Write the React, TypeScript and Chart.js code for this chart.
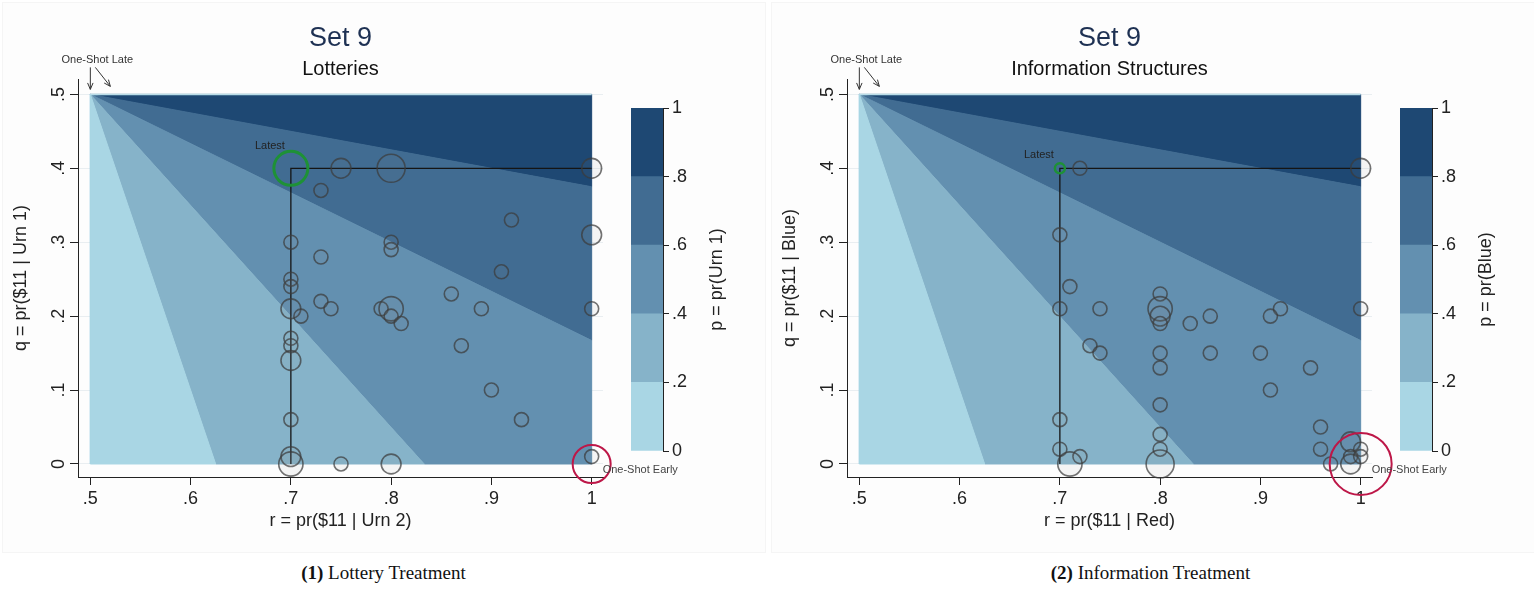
import React, { useEffect, useRef } from 'react';
import { Chart, registerables } from 'chart.js';
Chart.register(...registerables);

// ---------- data ----------
const xTicks = [0.5, 0.6, 0.7, 0.8, 0.9, 1];
const xTickLabels = ['.5', '.6', '.7', '.8', '.9', '1'];
const yTicks = [0, 0.1, 0.2, 0.3, 0.4, 0.5];
const yTickLabels = ['0', '.1', '.2', '.3', '.4', '.5'];
const pTicks = [0, 0.2, 0.4, 0.6, 0.8, 1];
const pTickLabels = ['0', '.2', '.4', '.6', '.8', '1'];
const pLevels = [0.2, 0.2, 0.2, 0.2, 0.2]; // colour-bar segments (p bands)

// contour bands of p (vertices r, q)
const band0R = [0.5, 0.5, 0.625, 0.5];
const band0Q = [0.5, 0, 0, 0.5];
const band1R = [0.5, 0.625, 0.833, 0.5];
const band1Q = [0.5, 0, 0, 0.5];
const band2R = [0.5, 0.833, 1, 1, 0.5];
const band2Q = [0.5, 0, 0, 0.167, 0.5];
const band3R = [0.5, 1, 1, 0.5];
const band3Q = [0.5, 0.167, 0.375, 0.5];
const band4R = [0.5, 1, 1, 0.5];
const band4Q = [0.5, 0.375, 0.5, 0.5];
const topEdgeR = [0.5, 1];
const topEdgeQ = [0.5, 0.5];

// reference lines through the latest option
const refR = [0.7, 0.7, 1.0];
const refQ = [0, 0.4, 0.4];

// highlighted options
const latestR = [0.7];
const latestQ = [0.4];
const earlyR = [1.0];
const earlyQ = [0.0];
const lateR = [0.5];
const lateQ = [0.5];

// Lottery treatment choices (r, q, count)
const lotR = [0.75, 0.80, 1.00, 0.73, 0.92, 1.00, 0.70, 0.80, 0.80, 0.73, 0.91, 0.70, 0.70, 0.86, 0.73, 0.74, 0.70, 0.79, 0.80, 0.89, 1.00, 0.71, 0.80, 0.81, 0.70, 0.70, 0.87, 0.70, 0.90, 0.93, 0.70, 0.70, 0.70, 0.75, 0.80, 1.00];
const lotQ = [0.40, 0.40, 0.40, 0.37, 0.33, 0.31, 0.30, 0.30, 0.29, 0.28, 0.26, 0.25, 0.24, 0.23, 0.22, 0.21, 0.21, 0.21, 0.21, 0.21, 0.21, 0.20, 0.20, 0.19, 0.17, 0.16, 0.16, 0.14, 0.10, 0.06, 0.06, 0.01, 0.00, 0.00, 0.00, 0.01];
const lotN = [2, 4, 2, 1, 1, 2, 1, 1, 1, 1, 1, 1, 1, 1, 1, 1, 2, 1, 3, 1, 1, 1, 1, 1, 1, 1, 1, 2, 1, 1, 1, 2, 3, 1, 2, 1];

// Information treatment choices (r, q, count)
const infR = [0.72, 1.00, 0.70, 0.71, 0.80, 0.70, 0.74, 0.80, 0.80, 0.80, 0.92, 1.00, 0.83, 0.85, 0.91, 0.73, 0.74, 0.80, 0.85, 0.90, 0.80, 0.95, 0.91, 0.80, 0.70, 0.96, 0.80, 0.70, 0.72, 0.71, 0.80, 0.80, 0.96, 0.97, 0.99, 0.99, 0.99, 1.00, 1.00];
const infQ = [0.40, 0.40, 0.31, 0.24, 0.23, 0.21, 0.21, 0.21, 0.20, 0.19, 0.21, 0.21, 0.19, 0.20, 0.20, 0.16, 0.15, 0.15, 0.15, 0.15, 0.13, 0.13, 0.10, 0.08, 0.06, 0.05, 0.04, 0.02, 0.01, 0.00, 0.02, 0.00, 0.02, 0.00, 0.03, 0.01, 0.00, 0.02, 0.01];
const infN = [1, 2, 1, 1, 1, 1, 1, 3, 2, 1, 1, 1, 1, 1, 1, 1, 1, 1, 1, 1, 1, 1, 1, 1, 1, 1, 1, 1, 1, 3, 1, 4, 1, 1, 2, 1, 2, 1, 1];

// ---------- styles ----------
const FONT = "'Liberation Sans', Arial, Helvetica, sans-serif";
const SERIF = "'Liberation Serif', 'Times New Roman', serif";
const bandColors = ['#a9d6e4', '#86b3c9', '#6390b0', '#416c92', '#1e4873'];
const PANEL_W = 767;
const PANEL_H = 552;

const pts = (r: number[], q: number[]) => r.map((v, i) => ({ x: v, y: q[i] }));

function arrow(ctx: any, x1: number, y1: number, x2: number, y2: number) {
  ctx.beginPath();
  ctx.moveTo(x1, y1);
  ctx.lineTo(x2, y2);
  const a = Math.atan2(y2 - y1, x2 - x1);
  const L = 7;
  ctx.moveTo(x2, y2);
  ctx.lineTo(x2 - L * Math.cos(a - 0.4), y2 - L * Math.sin(a - 0.4));
  ctx.moveTo(x2, y2);
  ctx.lineTo(x2 - L * Math.cos(a + 0.4), y2 - L * Math.sin(a + 0.4));
  ctx.stroke();
}

const annotPlugin = {
  id: 'annot',
  afterDraw(chart: any, _a: any, o: any) {
    const ctx = chart.ctx;
    const xs = chart.scales.x;
    const ys = chart.scales.y;
    ctx.save();
    // rotated y tick labels (Stata style)
    ctx.fillStyle = '#222';
    ctx.font = `18px ${FONT}`;
    ctx.textAlign = 'center';
    ctx.textBaseline = 'alphabetic';
    ys.ticks.forEach((t: any) => {
      const py = ys.getPixelForValue(t.value);
      const lab = yTickLabels[yTicks.indexOf(t.value)];
      ctx.save();
      ctx.translate(ys.right - 14.5, py);
      ctx.rotate(-Math.PI / 2);
      ctx.fillText(lab, 0, 0);
      ctx.restore();
    });
    // One-Shot Late
    const ax = xs.getPixelForValue(lateR[0]);
    const ay = ys.getPixelForValue(lateQ[0]);
    ctx.font = `11px ${FONT}`;
    ctx.fillStyle = '#333';
    ctx.textAlign = 'center';
    ctx.textBaseline = 'alphabetic';
    ctx.fillText('One-Shot Late', ax + 7, ay - 31);
    ctx.strokeStyle = '#333';
    ctx.lineWidth = 1;
    arrow(ctx, ax, ay - 27, ax, ay - 5);
    arrow(ctx, ax + 5, ay - 27, ax + 20, ay - 8);
    // Latest
    const lx = xs.getPixelForValue(latestR[0]);
    const ly = ys.getPixelForValue(latestQ[0]);
    ctx.fillStyle = '#222';
    ctx.textAlign = 'right';
    ctx.textBaseline = 'bottom';
    ctx.fillText('Latest', lx - 6, ly - o.latestRadius * 0.75 - 4);
    // One-Shot Early
    const ex = xs.getPixelForValue(earlyR[0]);
    const ey = ys.getPixelForValue(earlyQ[0]);
    ctx.fillStyle = '#444';
    ctx.textAlign = 'left';
    ctx.textBaseline = 'middle';
    ctx.fillText('One-Shot Early', ex + 11, ey + 6);
    ctx.restore();
  },
};

const cbTitlePlugin = {
  id: 'cbTitle',
  afterDraw(chart: any, _a: any, o: any) {
    const ctx = chart.ctx;
    const ys = chart.scales.y;
    ctx.save();
    ctx.fillStyle = '#222';
    ctx.font = `18px ${FONT}`;
    ctx.textAlign = 'center';
    ctx.textBaseline = 'middle';
    ctx.translate(ys.left + 54, (ys.top + ys.bottom) / 2);
    ctx.rotate(-Math.PI / 2);
    ctx.fillText(o.text, 0, 0);
    ctx.restore();
  },
};

function MainChart({ cfg }: any) {
  const ref = useRef<HTMLCanvasElement>(null);
  useEffect(() => {
    const bands = [
      [band0R, band0Q],
      [band1R, band1Q],
      [band2R, band2Q],
      [band3R, band3Q],
      [band4R, band4Q],
    ];
    const datasets: any[] = [];
    bands.forEach(([r, q], i) => {
      datasets.push({
        type: 'line',
        data: pts(r, q),
        backgroundColor: bandColors[i],
        borderColor: bandColors[i],
        borderWidth: 1,
        fill: 'shape',
        pointRadius: 0,
        tension: 0,
        order: 30,
      });
    });
    datasets.push({
      type: 'line',
      data: pts(topEdgeR, topEdgeQ),
      borderColor: '#b9dde8',
      borderWidth: 1.5,
      fill: false,
      pointRadius: 0,
      order: 25,
    });
    datasets.push({
      type: 'line',
      data: pts(refR, refQ),
      borderColor: '#151515',
      borderWidth: 1.3,
      fill: false,
      pointRadius: 0,
      tension: 0,
      order: 20,
    });
    datasets.push({
      type: 'scatter',
      data: pts(cfg.r, cfg.q),
      pointRadius: (c: any) => 7 * Math.sqrt(cfg.n[c.dataIndex] || 1),
      pointBackgroundColor: 'rgba(140,140,140,0.08)',
      pointBorderColor: 'rgba(60,60,60,0.72)',
      pointBorderWidth: 1.6,
      clip: false,
      order: 10,
    });
    datasets.push({
      type: 'scatter',
      data: pts(latestR, latestQ),
      pointRadius: cfg.latestRadius,
      pointBackgroundColor: 'rgba(0,0,0,0)',
      pointBorderColor: '#1e9136',
      pointBorderWidth: cfg.latestWidth,
      clip: false,
      order: 5,
    });
    datasets.push({
      type: 'scatter',
      data: pts(earlyR, earlyQ),
      pointRadius: cfg.earlyRadius,
      pointBackgroundColor: 'rgba(0,0,0,0)',
      pointBorderColor: '#bd1748',
      pointBorderWidth: 2,
      clip: false,
      order: 4,
    });

    const chart = new Chart(ref.current as any, {
      type: 'scatter',
      data: { datasets },
      plugins: [annotPlugin],
      options: {
        animation: false,
        responsive: false,
        events: [],
        layout: { padding: { left: 0, right: PANEL_W - 603, top: 79, bottom: PANEL_H - 477 - 60 } },
        plugins: {
          legend: { display: false },
          tooltip: { enabled: false },
          annot: { latestRadius: cfg.latestRadius },
        } as any,
        scales: {
          x: {
            type: 'linear',
            min: 0.4877,
            max: 1.0113,
            afterBuildTicks: (s: any) => {
              s.ticks = xTicks.map((v) => ({ value: v }));
            },
            afterFit: (s: any) => {
              s.height = 60;
            },
            ticks: {
              callback: (v: any) => xTickLabels[xTicks.indexOf(v)],
              font: { family: FONT, size: 18 },
              color: '#222',
              padding: 3,
              maxRotation: 0,
              autoSkip: false,
            },
            grid: { drawOnChartArea: false, drawTicks: true, tickLength: 8, tickColor: '#222' },
            border: { display: true, color: '#222', width: 1 },
            title: {
              display: true,
              text: cfg.xTitle,
              font: { family: FONT, size: 18 },
              color: '#222',
              padding: { top: 0, bottom: 5 },
            },
          },
          y: {
            type: 'linear',
            min: -0.0176,
            max: 0.5208,
            afterBuildTicks: (s: any) => {
              s.ticks = yTicks.map((v) => ({ value: v }));
            },
            afterFit: (s: any) => {
              s.width = 78;
            },
            ticks: { display: false },
            grid: {
              drawOnChartArea: true,
              color: '#e9eef1',
              drawTicks: true,
              tickLength: 8,
              tickColor: '#222',
            },
            border: { display: true, color: '#222', width: 1 },
            title: {
              display: true,
              text: cfg.yTitle,
              font: { family: FONT, size: 18 },
              color: '#222',
              padding: { top: 10, bottom: 0 },
            },
          },
        },
      } as any,
    });
    return () => chart.destroy();
  }, [cfg]);
  return (
    <canvas
      ref={ref}
      width={PANEL_W}
      height={PANEL_H}
      style={{ position: 'absolute', left: 0, top: 0, width: PANEL_W, height: PANEL_H }}
    />
  );
}

function ColorBar({ cfg }: any) {
  const ref = useRef<HTMLCanvasElement>(null);
  useEffect(() => {
    const chart = new Chart(ref.current as any, {
      type: 'bar',
      data: {
        labels: [''],
        datasets: pLevels.map((v, i) => ({
          data: [v],
          backgroundColor: bandColors[i],
          borderWidth: 0,
          barPercentage: 1,
          categoryPercentage: 1,
        })),
      },
      plugins: [cbTitlePlugin],
      options: {
        animation: false,
        responsive: false,
        events: [],
        layout: { padding: { left: 11, right: 0, top: 108, bottom: PANEL_H - 451 } },
        plugins: {
          legend: { display: false },
          tooltip: { enabled: false },
          cbTitle: { text: cfg.pTitle },
        } as any,
        scales: {
          x: { display: false, stacked: true },
          y: {
            position: 'right',
            stacked: true,
            min: 0,
            max: 1,
            afterBuildTicks: (s: any) => {
              s.ticks = pTicks.map((v) => ({ value: v }));
            },
            afterFit: (s: any) => {
              s.width = 104;
            },
            ticks: {
              callback: (v: any) => pTickLabels[pTicks.indexOf(v)],
              font: { family: FONT, size: 18 },
              color: '#222',
              padding: 3,
            },
            grid: { drawOnChartArea: false, drawTicks: true, tickLength: 6, tickColor: '#222' },
            border: { display: true, color: '#222', width: 1 },
          },
        },
      } as any,
    });
    return () => chart.destroy();
  }, [cfg]);
  return (
    <canvas
      ref={ref}
      width={147}
      height={PANEL_H}
      style={{ position: 'absolute', left: 620, top: 0, width: 147, height: PANEL_H }}
    />
  );
}

function Panel({ cfg, left }: any) {
  return (
    <div style={{ position: 'absolute', left, top: 0, width: PANEL_W, height: PANEL_H }}>
      <div
        style={{
          position: 'absolute',
          left: 2,
          top: 2,
          width: PANEL_W - 5,
          height: PANEL_H - 3,
          background: '#fdfdfd',
          border: '1px solid #f5f5f5',
        }}
      />
      <MainChart cfg={cfg} />
      <ColorBar cfg={cfg} />
      <div
        style={{
          position: 'absolute',
          left: 78,
          width: 525,
          top: 21,
          textAlign: 'center',
          font: `27px/32px ${FONT}`,
          color: '#1e3153',
        }}
      >
        Set 9
      </div>
      <div
        style={{
          position: 'absolute',
          left: 78,
          width: 525,
          top: 56,
          textAlign: 'center',
          font: `20px/24px ${FONT}`,
          color: '#111',
        }}
      >
        {cfg.title}
      </div>
    </div>
  );
}

const lotteryCfg = {
  title: 'Lotteries',
  xTitle: 'r = pr($11 | Urn 2)',
  yTitle: 'q = pr($11 | Urn 1)',
  pTitle: 'p = pr(Urn 1)',
  r: lotR,
  q: lotQ,
  n: lotN,
  latestRadius: 17,
  latestWidth: 3,
  earlyRadius: 19,
};

const infoCfg = {
  title: 'Information Structures',
  xTitle: 'r = pr($11 | Red)',
  yTitle: 'q = pr($11 | Blue)',
  pTitle: 'p = pr(Blue)',
  r: infR,
  q: infQ,
  n: infN,
  latestRadius: 5,
  latestWidth: 2.5,
  earlyRadius: 31,
};

export default function App() {
  return (
    <div style={{ position: 'absolute', left: 0, top: 0, width: 1534, height: 592, background: '#fff', overflow: 'hidden' }}>
      <Panel cfg={lotteryCfg} left={0} />
      <Panel cfg={infoCfg} left={769} />
      <div style={{ position: 'absolute', left: 0, width: 767, top: 562, textAlign: 'center', font: `19px/22px ${SERIF}`, color: '#111' }}>
        <b>(1)</b> Lottery Treatment
      </div>
      <div style={{ position: 'absolute', left: 767, width: 767, top: 562, textAlign: 'center', font: `19px/22px ${SERIF}`, color: '#111' }}>
        <b>(2)</b> Information Treatment
      </div>
    </div>
  );
}
